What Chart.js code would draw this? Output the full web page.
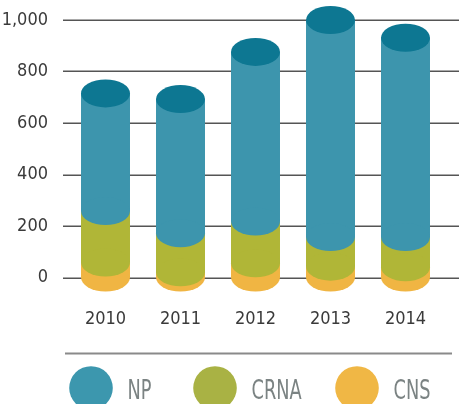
<!DOCTYPE html>
<html>
<head>
<meta charset="utf-8">
<script src="https://cdn.jsdelivr.net/npm/chart.js@4"></script>
<style>
  html, body { margin: 0; padding: 0; background: #fff; }
  canvas { display: block; }
</style>
</head>
<body>
<canvas id="chart" width="459" height="404"></canvas>
<script>
const years = ["2010", "2011", "2012", "2013", "2014"];
const cnsValues = [58, 20, 55, 42, 40];
const crnaValues = [200, 152, 162, 115, 117];
const npValues = [457, 521, 659, 843, 774];
const yTicks = [0, 200, 400, 600, 800, 1000];

const FONT = '"Liberation Sans Narrow", "DejaVu Sans Condensed", sans-serif';
const sideColors = { CNS: "#f0b543", CRNA: "#b0b637", NP: "#3d95ad" };
const capColor = "#0d7792";
const legendColors = { NP: "#3c97ae", CRNA: "#a9b244", CNS: "#f0b745" };
const RY = 14;

function ellipse(ctx, x, y, rx, ry, color) {
  ctx.beginPath();
  ctx.ellipse(x, y, rx, ry, 0, 0, Math.PI * 2);
  ctx.fillStyle = color;
  ctx.fill();
}

const cylinders = {
  id: "cylinders",
  beforeDatasetsDraw(chart) {
    const ctx = chart.ctx;
    const yScale = chart.scales.y;
    ctx.save();
    // grid lines, wider than the plot area
    ctx.strokeStyle = "#555";
    ctx.lineWidth = 1.5;
    yTicks.forEach(v => {
      const py = Math.round(yScale.getPixelForValue(v)) + 0.25;
      ctx.beginPath();
      ctx.moveTo(63, py);
      ctx.lineTo(chart.width, py);
      ctx.stroke();
    });
    const n = chart.data.labels.length;
    for (let i = 0; i < n; i++) {
      let top = null;
      chart.data.datasets.forEach((ds, di) => {
        const bar = chart.getDatasetMeta(di).data[i];
        const half = bar.width / 2;
        const color = sideColors[ds.label];
        ctx.fillStyle = color;
        ctx.fillRect(bar.x - half, bar.y, bar.width, bar.base - bar.y);
        ellipse(ctx, bar.x, bar.base, half, RY, color);
        top = bar;
      });
      ellipse(ctx, top.x, top.y, top.width / 2, RY, capColor);
    }
    ctx.restore();
    return false;
  },
  afterDraw(chart) {
    const ctx = chart.ctx;
    ctx.save();
    // separator
    ctx.strokeStyle = "#8a8a8a";
    ctx.lineWidth = 2;
    ctx.beginPath();
    ctx.moveTo(65, 353.5);
    ctx.lineTo(452, 353.5);
    ctx.stroke();
    // legend
    const items = [
      { label: "NP", cx: 91 },
      { label: "CRNA", cx: 215 },
      { label: "CNS", cx: 357 }
    ];
    ctx.font = "27px " + FONT;
    ctx.textBaseline = "alphabetic";
    ctx.textAlign = "left";
    items.forEach(it => {
      ctx.beginPath();
      ctx.arc(it.cx, 388, 21.8, 0, Math.PI * 2);
      ctx.fillStyle = legendColors[it.label];
      ctx.fill();
      ctx.save();
      ctx.translate(it.cx + 36.5, 398.5);
      ctx.scale(0.73, 1);
      ctx.fillStyle = "#7b8383";
      ctx.fillText(it.label, 0, 0);
      ctx.restore();
    });
    ctx.restore();
  }
};

new Chart(document.getElementById("chart"), {
  type: "bar",
  data: {
    labels: years,
    datasets: [
      { label: "CNS", data: cnsValues, backgroundColor: sideColors.CNS },
      { label: "CRNA", data: crnaValues, backgroundColor: sideColors.CRNA },
      { label: "NP", data: npValues, backgroundColor: sideColors.NP }
    ]
  },
  options: {
    responsive: false,
    animation: false,
    layout: { padding: { top: 20, right: 16, bottom: 0, left: 0 } },
    datasets: { bar: { barPercentage: 0.653, categoryPercentage: 1 } },
    plugins: { legend: { display: false }, tooltip: { enabled: false } },
    scales: {
      x: {
        stacked: true,
        grid: { display: false, drawTicks: false },
        border: { display: false },
        ticks: { padding: 31, color: "#3a3a3a", font: { family: FONT, size: 18 } },
        afterFit(scale) { scale.height = 126.5; }
      },
      y: {
        stacked: true,
        min: 0,
        max: 1000,
        grid: { display: false, drawTicks: false },
        border: { display: false },
        ticks: { stepSize: 200, padding: 20, color: "#3a3a3a", font: { family: FONT, size: 18 } },
        afterFit(scale) {
          scale.width = 68;
          scale.paddingTop = 0;
          scale.paddingBottom = 0;
        }
      }
    }
  },
  plugins: [cylinders]
});
</script>
</body>
</html>
